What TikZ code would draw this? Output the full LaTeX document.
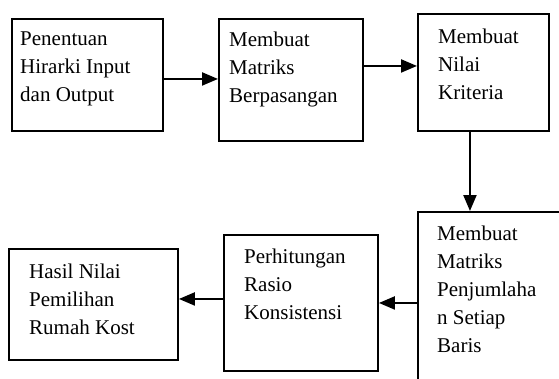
\documentclass[tikz,border=0pt]{standalone}
\usepackage{fontspec}
\setmainfont{Liberation Serif}
\usetikzlibrary{arrows.meta,calc}

\tikzset{
  kotak/.style={draw, line width=1.9pt, rectangle, inner sep=0pt, anchor=north west},
  isi/.style={anchor=north west, inner sep=0pt, align=left, font=\fontsize{21pt}{28pt}\selectfont},
  alur/.style={line width=2.1pt, -{Triangle[length=16pt,width=13pt]}}
}

\begin{document}
\begin{tikzpicture}[x=1pt,y=-1pt]
  \useasboundingbox (0,0) rectangle (559,378);
  \clip (0,0) rectangle (559,378);

  % kotak baris atas
  \node[kotak, minimum width=151pt, minimum height=112pt] (B1) at (11,18) {};
  \node[kotak, minimum width=144pt, minimum height=122pt] (B2) at (218,18) {};
  \node[kotak, minimum width=131pt, minimum height=117pt] (B3) at (417,13) {};
  % kotak baris bawah
  \node[kotak, minimum width=150pt, minimum height=180pt] (B4) at (417,211) {};
  \node[kotak, minimum width=154pt, minimum height=136pt] (B5) at (223,234) {};
  \node[kotak, minimum width=169pt, minimum height=111pt] (B6) at (8,248) {};

  \node[isi] (T1) at (20,32) {Penentuan\\Hirarki Input\\dan Output};
  \node[isi] (T2) at (229,32) {Membuat\\Matriks\\Berpasangan};
  \node[isi] (T3) at (438,29) {Membuat\\Nilai\\Kriteria};
  \node[isi] (T4) at (437,226) {Membuat\\Matriks\\Penjumlaha\\n Setiap\\Baris};
  \node[isi] (T5) at (244,249) {Perhitungan\\Rasio\\Konsistensi};
  \node[isi] (T6) at (29,264) {Hasil Nilai\\Pemilihan\\Rumah Kost};

  \draw[alur] ([yshift=-4pt]B1.east) -- ([yshift=-4pt]B1.east -| B2.west);
  \draw[alur] ([yshift=6.5pt]B3.west -| B2.east) -- ([yshift=6.5pt]B3.west);
  \draw[alur] ([xshift=-13.5pt]B3.south) -- ([xshift=-13.5pt]B3.south |- B4.north);
  \draw[alur] ([yshift=-1pt]B4.west) -- ([yshift=-1pt]B4.west -| B5.east);
  \draw[alur] ([yshift=4pt]B5.west) -- ([yshift=4pt]B5.west -| B6.east);
\end{tikzpicture}
\end{document}
